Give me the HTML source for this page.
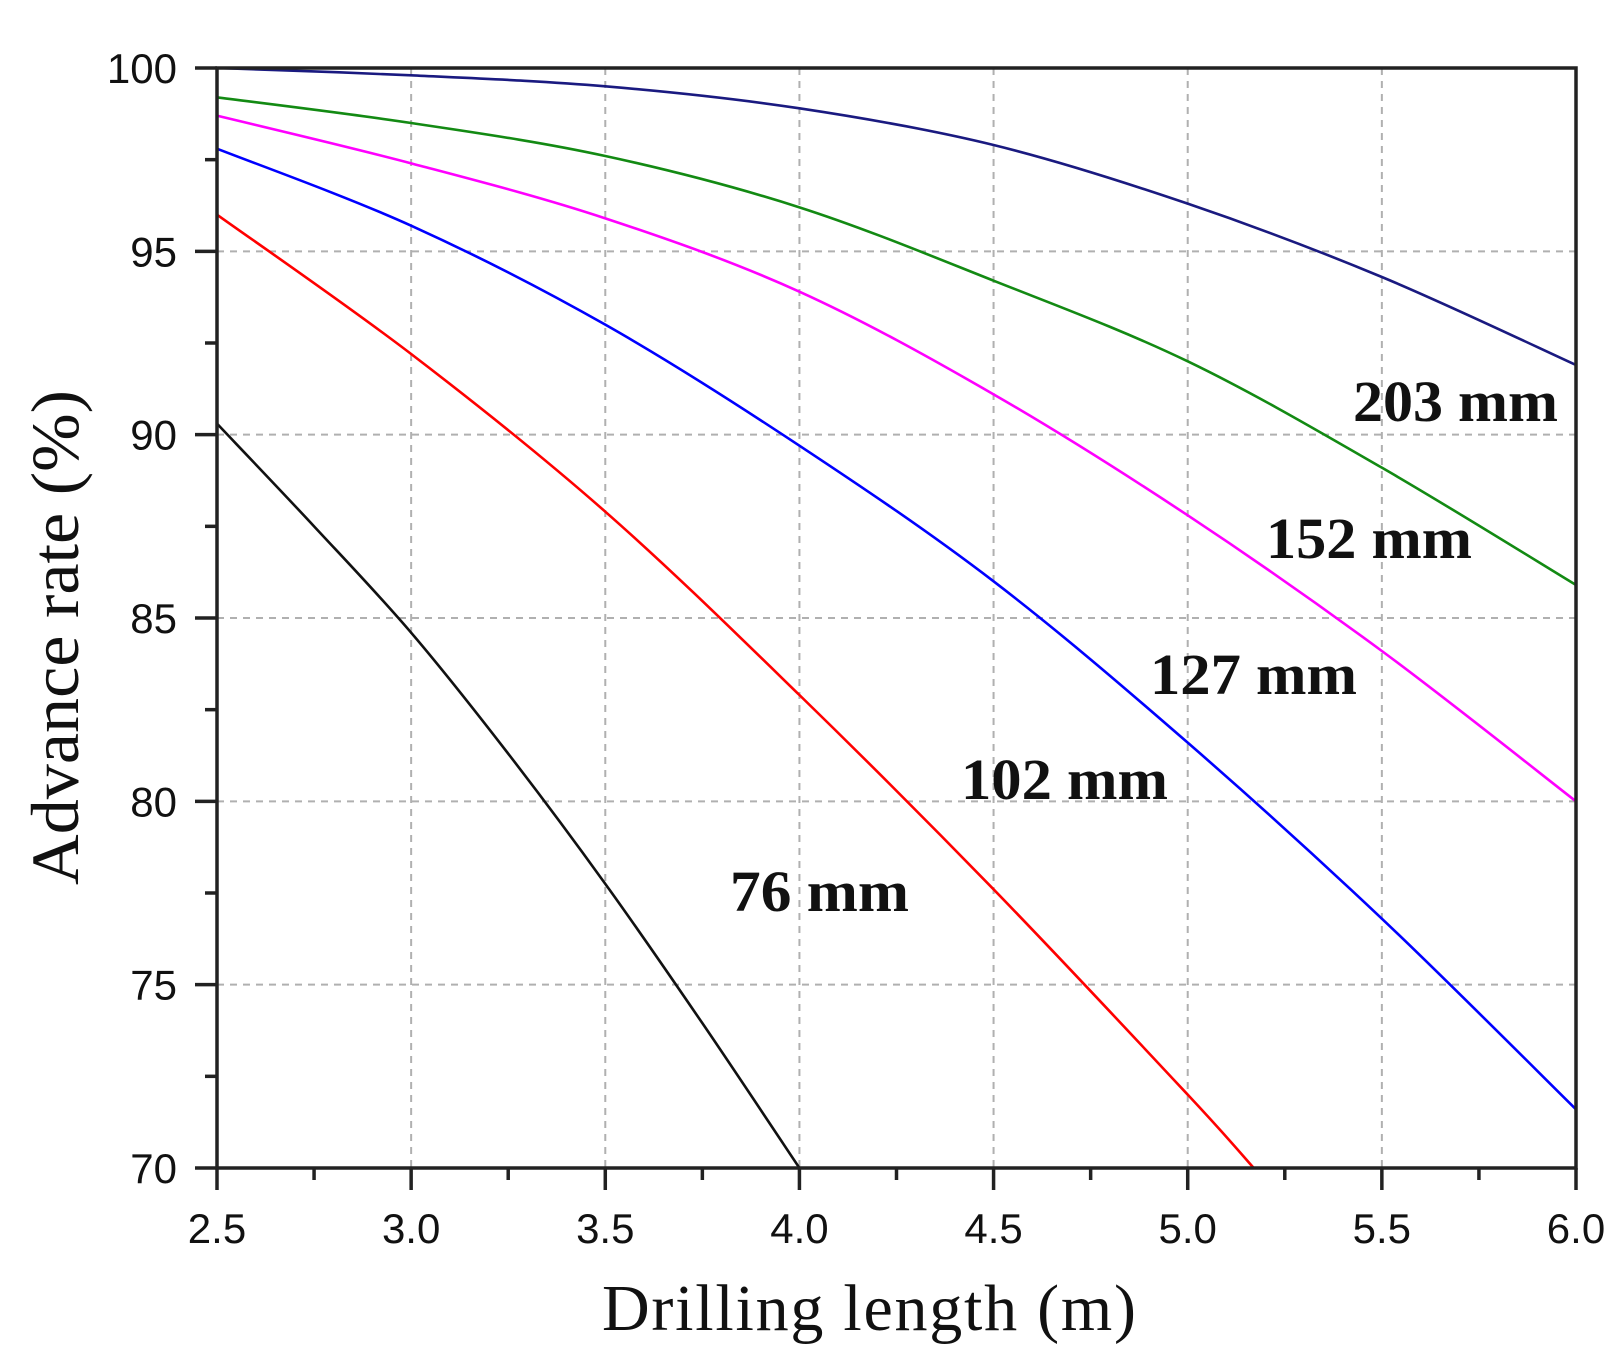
<!DOCTYPE html>
<html><head><meta charset="utf-8"><style>body{margin:0;background:#fff}svg{display:block}</style></head>
<body>
<svg id="s" width="1619" height="1359" xmlns="http://www.w3.org/2000/svg">
<g id="grid" stroke="#b0b0b0" stroke-width="2" stroke-dasharray="7,6"></g>
<g id="curves" fill="none" stroke-width="2.6"></g>
<rect x="217" y="68" width="1359" height="1100" fill="none" stroke="#222" stroke-width="3.5"/>
<g id="ticks" stroke="#222" stroke-width="3.5"></g>
<g id="lbl" font-family="Liberation Sans, sans-serif" font-size="42" fill="#111"></g>
<g font-family="Liberation Serif, serif" font-weight="bold" font-size="58" fill="#111">
<text x="1353" y="421" textLength="205" lengthAdjust="spacingAndGlyphs">203 mm</text>
<text x="1266" y="558" textLength="206" lengthAdjust="spacingAndGlyphs">152 mm</text>
<text x="1150" y="694" textLength="207" lengthAdjust="spacingAndGlyphs">127 mm</text>
<text x="961" y="799" textLength="207" lengthAdjust="spacingAndGlyphs">102 mm</text>
<text x="730" y="911" textLength="179" lengthAdjust="spacingAndGlyphs">76 mm</text>
</g>
<text x="602" y="1330" textLength="534" font-family="Liberation Serif, serif" font-size="66" fill="#111">Drilling  length (m)</text>
<text transform="translate(78,885) rotate(-90)" textLength="495" lengthAdjust="spacingAndGlyphs" font-family="Liberation Serif, serif" font-size="68" fill="#111">Advance rate (%)</text>
</svg>
<script>
const X=v=>217+(v-2.5)/3.5*1359, Y=v=>68+(100-v)/30*1100;
const ns="http://www.w3.org/2000/svg";
function el(p,t,a,txt){const e=document.createElementNS(ns,t);for(const k in a)e.setAttribute(k,a[k]);if(txt)e.textContent=txt;document.getElementById(p).appendChild(e);}
for(let i=1;i<7;i++){const x=X(2.5+i*0.5);el('grid','line',{x1:x,y1:68,x2:x,y2:1168});}
for(let i=1;i<6;i++){const y=Y(70+i*5);el('grid','line',{x1:217,y1:y,x2:1576,y2:y});}
for(let i=0;i<=7;i++){const x=X(2.5+i*0.5);el('ticks','line',{x1:x,y1:1168,x2:x,y2:1190});el('lbl','text',{x:x,y:1243,'text-anchor':'middle'},(2.5+i*0.5).toFixed(1));
 if(i<7){const xm=X(2.75+i*0.5);el('ticks','line',{x1:xm,y1:1168,x2:xm,y2:1180});}}
for(let i=0;i<=6;i++){const y=Y(70+i*5);el('ticks','line',{x1:195,y1:y,x2:217,y2:y});el('lbl','text',{x:177,y:y+15,'text-anchor':'end'},String(70+i*5));
 if(i<6){const ym=Y(72.5+i*5);el('ticks','line',{x1:205,y1:ym,x2:217,y2:ym});}}
const data=[
['#1a1a80',[[2.5,100],[3,99.8],[3.5,99.5],[4,98.9],[4.5,97.9],[5,96.3],[5.5,94.3],[6,91.9]]],
['#138a13',[[2.5,99.2],[3,98.5],[3.5,97.6],[4,96.2],[4.5,94.2],[5,92.0],[5.5,89.1],[6,85.9]]],
['#ff00ff',[[2.5,98.7],[3,97.4],[3.5,95.9],[4,93.9],[4.5,91.1],[5,87.8],[5.5,84.1],[6,80.0]]],
['#0000ff',[[2.5,97.8],[3,95.7],[3.5,93.0],[4,89.7],[4.5,86.0],[5,81.6],[5.5,76.8],[6,71.6]]],
['#ff0000',[[2.5,96.0],[3,92.2],[3.5,87.9],[4,82.9],[4.5,77.6],[5,72.0],[5.17,70]]],
['#111111',[[2.5,90.3],[2.75,87.5],[3,84.6],[3.25,81.3],[3.5,77.75],[3.75,73.95],[4,70]]]];
for(const [c,pts] of data){const p=pts.map(([a,b])=>[X(a),Y(b)]);let d='M'+p[0];
 for(let i=0;i<p.length-1;i++){const p0=p[Math.max(0,i-1)],p1=p[i],p2=p[i+1],p3=p[Math.min(p.length-1,i+2)];
 const c1=[p1[0]+(p2[0]-p0[0])/6,p1[1]+(p2[1]-p0[1])/6],c2=[p2[0]-(p3[0]-p1[0])/6,p2[1]-(p3[1]-p1[1])/6];
 d+=' C'+c1+' '+c2+' '+p2;}
 el('curves','path',{d:d,stroke:c});}
</script>
</body></html>
